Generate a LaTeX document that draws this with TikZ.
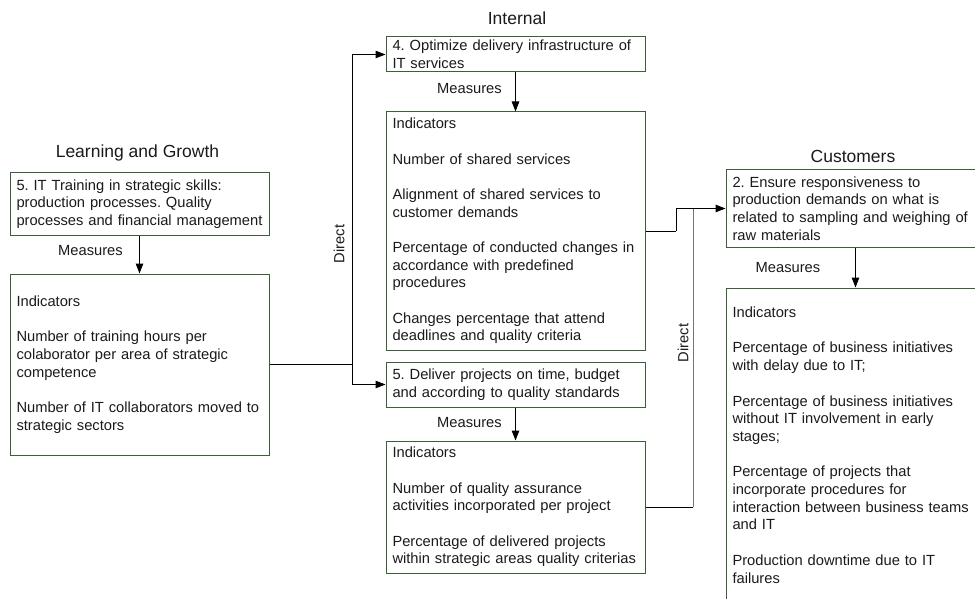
\documentclass[tikz,border=0pt]{standalone}
\usepackage{fontspec}
\setmainfont{Liberation Sans}
\usetikzlibrary{arrows.meta}
\definecolor{boxgreen}{HTML}{3A5F3A}
\definecolor{txt}{HTML}{1A1A1A}
\frenchspacing
\begin{document}
\begin{tikzpicture}[x=1pt,y=-1pt,
  box/.style={draw=boxgreen, line width=1pt, rectangle, inner xsep=6.5pt, inner ysep=0pt,
    text width=246pt, align=left, minimum width=259pt, text=txt,
    font=\fontsize{14.7}{17.7}\selectfont},
  lbl/.style={text=txt, inner sep=0pt, font=\fontsize{14.7}{17.7}\selectfont},
  ttl/.style={text=txt, inner sep=0pt, font=\fontsize{17.5}{21}\selectfont},
  conn/.style={line width=1pt, draw=black},
  arr/.style={conn, -{Triangle[length=10pt,width=7.5pt]}}]
\useasboundingbox (0,0) rectangle (975,599);
\clip (0,0) rectangle (975,599);

% titles
\node[ttl] (tLG) at (137.5,152.5) {Learning and Growth};
\node[ttl] (tI) at (517,18.5) {Internal};
\node[ttl] (tC) at (853,156) {Customers};

% Learning and Growth
\node[box, minimum height=62pt] (LG1) at (139.5,204) {5. IT Training in strategic skills:\\production processes. Quality\\processes and financial management};
\node[box, minimum height=181pt] (LG2) at (139.5,364.5) {Indicators\\[17.7pt]Number of training hours per\\colaborator per area of strategic\\competence\\[17.7pt]Number of IT collaborators moved to\\strategic sectors};

% Internal
\node[box, minimum height=35pt] (I1) at (515.5,54.5) {4. Optimize delivery infrastructure of\\IT services};
\node[box, minimum height=238pt] (I2) at (515.5,231) {Indicators\\[17.7pt]Number of shared services\\[17.7pt]Alignment of shared services to\\customer demands\\[17.7pt]Percentage of conducted changes in\\accordance with predefined\\procedures\\[17.7pt]Changes percentage that attend\\deadlines and quality criteria};
\node[box, minimum height=45pt] (I3) at (515.5,384.5) {5. Deliver projects on time, budget\\and according to quality standards};
\node[box, minimum height=132pt] (I4) at (515.5,507) {Indicators\\[17.7pt]Number of quality assurance\\activities incorporated per project\\[17.7pt]Percentage of delivered projects\\within strategic areas quality criterias};

% Customers
\node[box, minimum height=77pt] (C1) at (855.5,208.5) {2. Ensure responsiveness to\\production demands on what is\\related to sampling and weighing of\\raw materials};
\node[box, minimum height=314pt] (C2) at (855.5,445) {Indicators\\[17.7pt]Percentage of business initiatives\\with delay due to IT;\\[17.7pt]Percentage of business initiatives\\without IT involvement in early\\stages;\\[17.7pt]Percentage of projects that\\incorporate procedures for\\interaction between business teams\\and IT\\[17.7pt]Production downtime due to IT\\failures};

% Measures arrows
\draw[arr] (LG1) -- (LG2);
\draw[arr] (I1) -- (I2);
\draw[arr] (I3) -- (I4);
\draw[arr] (C1) -- (C2);
\node[lbl] (mLG) at (90.5,251) {Measures};
\node[lbl] (mI1) at (469.5,89) {Measures};
\node[lbl] (mI3) at (469.5,423) {Measures};
\node[lbl] (mC) at (788,268) {Measures};

% Direct connectors
\coordinate (j1) at (352,364.5);
\draw[conn] (LG2.east) -- (j1);
\draw[arr] (j1) |- (I1.west);
\draw[arr] (j1) |- (I3.west);
\node[lbl, rotate=90] (d1) at (339,244) {Direct};

\coordinate (k1) at (676,231);
\draw[conn] (I2.east) -- (k1);
\draw[arr] (k1) |- (C1.west);
\coordinate (k2) at (693,507);
\draw[conn] (I4.east) -- (k2);
\draw[line width=1pt, draw=black!55] (k2) -- (k2 |- C1.west);
\node[lbl, rotate=90] (d2) at (683,343) {Direct};
\end{tikzpicture}
\end{document}
